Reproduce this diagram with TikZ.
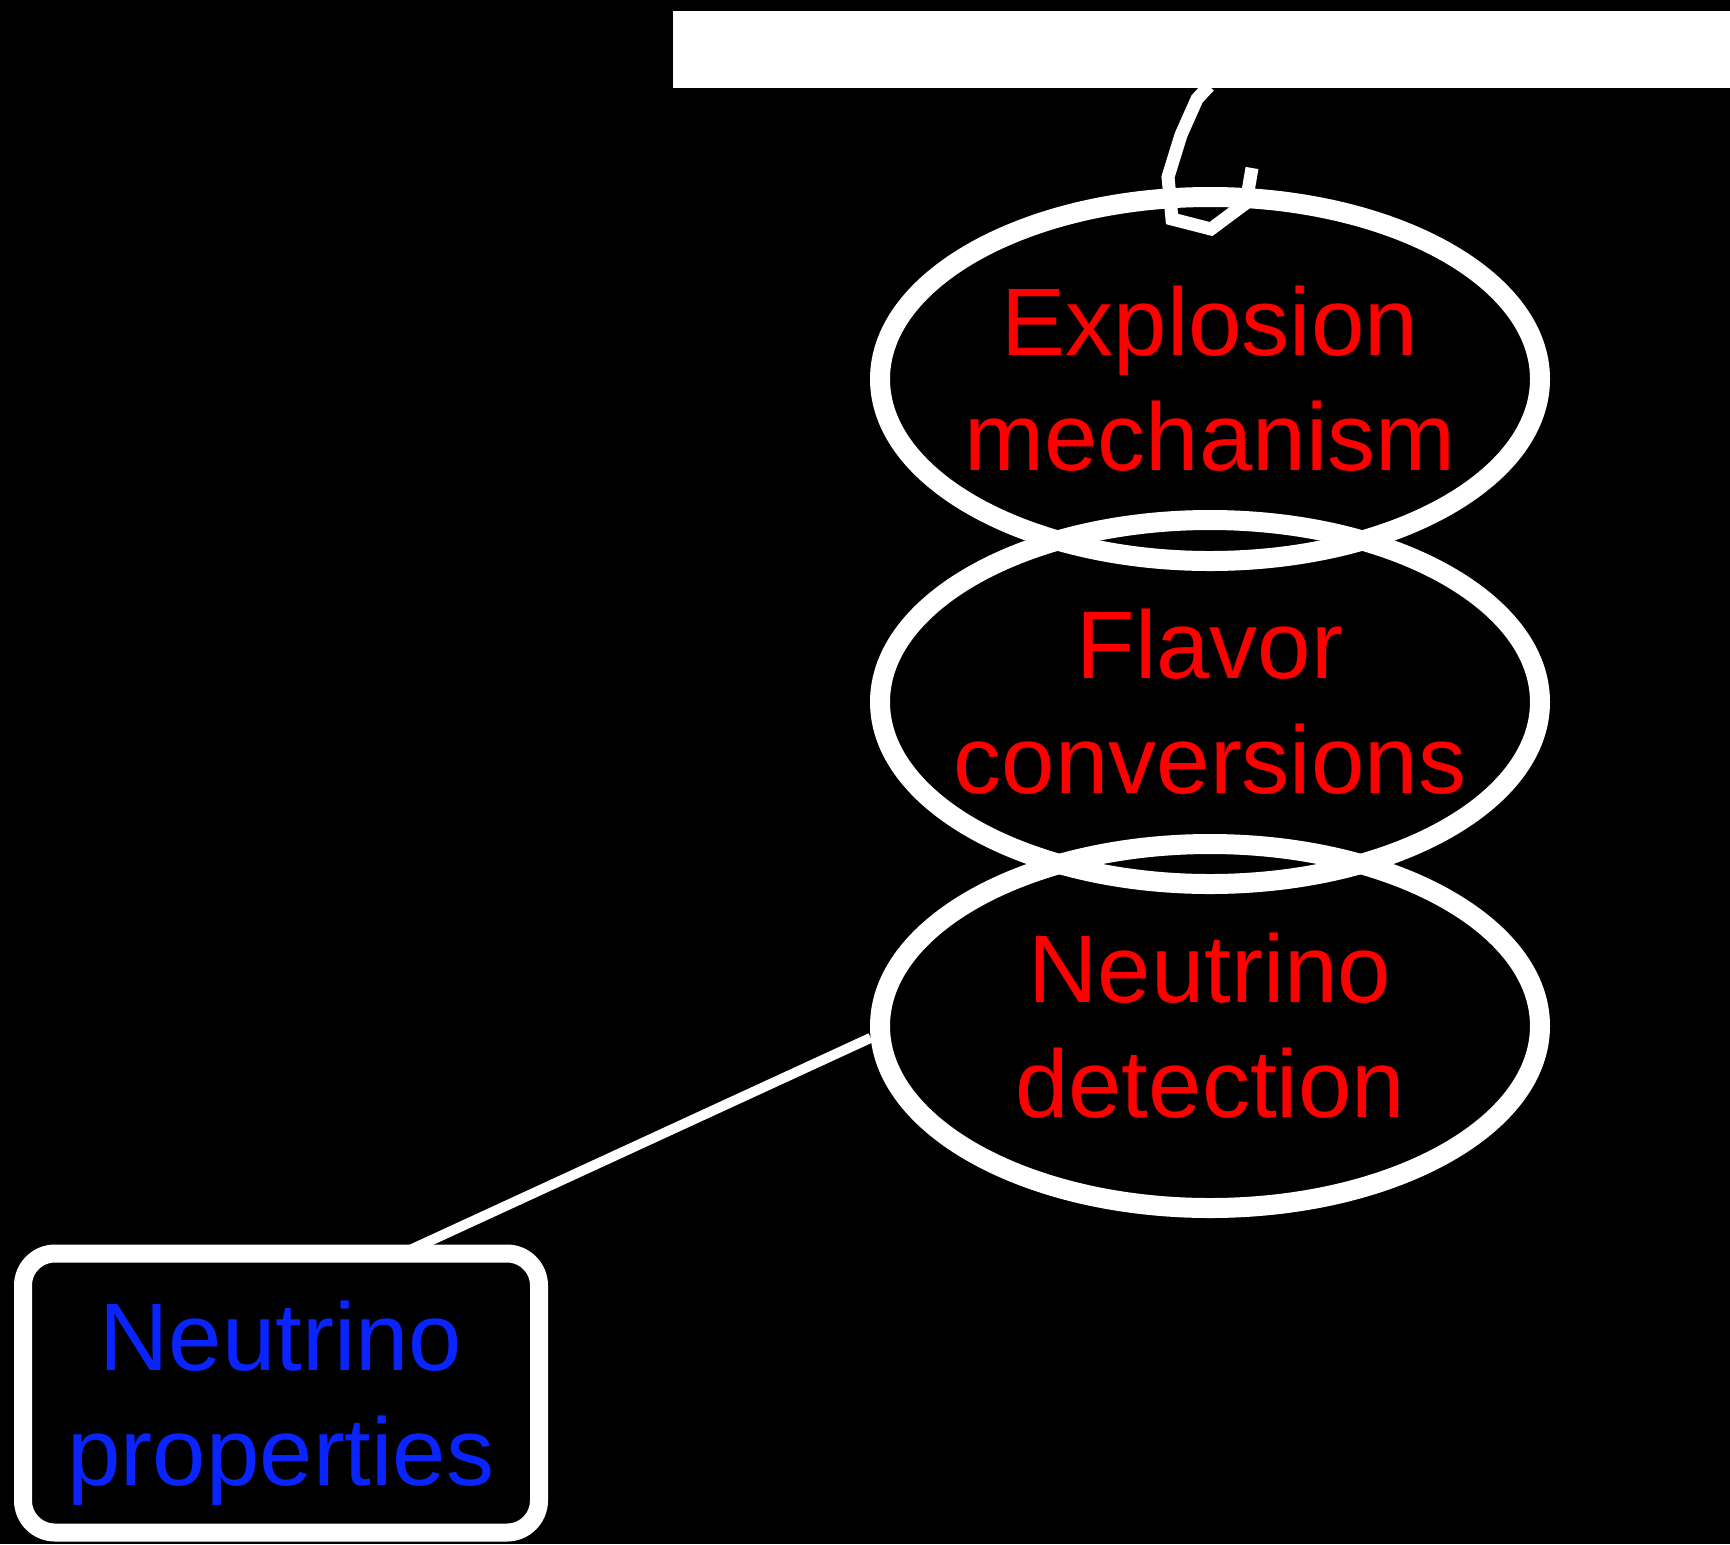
\documentclass[tikz,border=0pt]{standalone}
\usepackage{fontspec}
\setmainfont{Liberation Sans}
\usetikzlibrary{shapes.geometric}
\definecolor{txtred}{RGB}{255,0,0}
\definecolor{txtblue}{RGB}{10,36,255}
\newcommand{\zw}[1]{\makebox[0pt][c]{#1}}
\begin{document}
\begin{tikzpicture}[x=0.5pt,y=-0.5pt,
  topic/.style={ellipse, draw=white, line width=10pt, minimum width=330pt, minimum height=182pt, inner sep=0pt, text=txtred, align=center, font=\fontsize{48}{57.5}\selectfont},
  propbox/.style={rectangle, rounded corners=16pt, draw=white, line width=9pt, minimum width=258pt, minimum height=139.5pt, inner sep=0pt, text=txtblue, align=center, font=\fontsize{48}{57.5}\selectfont, text depth=0pt},
  link/.style={draw=white, line width=5pt},
  squiggle/.style={draw=white, line width=6.5pt},
  barbox/.style={fill=white, minimum width=528.5pt, minimum height=38.5pt, inner sep=0pt, anchor=north west}]
\fill[black] (0,0) rectangle (1730,1544);
\useasboundingbox (0,0) rectangle (1730,1544);
\node[barbox] (bar) at (673,11) {};
\node[topic] (expl) at (1210,379) {\zw{Explosion}\\\zw{mechanism}};
\node[topic] (flav) at (1210,702) {\zw{Flavor}\\\zw{conversions}};
\node[topic] (det) at (1210,1026) {\zw{Neutrino}\\\zw{detection}};
\node[propbox] (props) at (281,1393) {Neutrino\\properties};
\draw[squiggle] (1209,86) -- (1197,99) -- (1181,135) -- (1168,177) -- (1172,219) -- (1211,229) -- (1246,203) -- (1252,168);
\coordinate (pn) at (410,1250);
\draw[link] (det.182) -- (pn);
\end{tikzpicture}
\end{document}
